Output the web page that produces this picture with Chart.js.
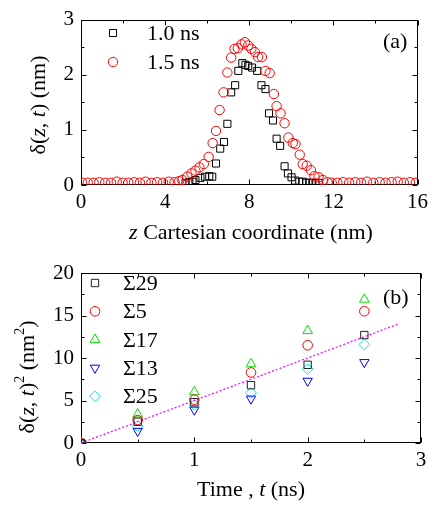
<!DOCTYPE html>
<html>
<head>
<meta charset="utf-8">
<script src="https://cdn.jsdelivr.net/npm/chart.js@4.4.0/dist/chart.umd.min.js"></script>
<style>
  body { margin: 0; background: #fff; }
  #wrap { position: relative; width: 433px; height: 505px; }
  canvas { position: absolute; left: 0; }
</style>
</head>
<body>
<div id="wrap">
  <canvas id="chartA" width="433" height="250" style="top:0"></canvas>
  <canvas id="chartB" width="433" height="255" style="top:250px"></canvas>
</div>
<script>
// panel (a): profile across z
const zTicks = [0, 4, 8, 12, 16];
const deltaTicks = [0, 1, 2, 3];

// 1.0 ns (squares)
const z10 = [4.97, 5.15, 5.3, 5.44, 5.68, 5.9, 6.1, 6.24, 6.42, 6.62, 6.8, 6.96, 7.14, 7.33, 7.48, 7.67, 7.82, 7.95, 8.13, 8.38,
  8.58, 8.77, 8.94, 9.13, 9.3, 9.47, 9.68, 9.84, 10.01, 10.18, 10.38, 10.54, 10.7, 10.85, 11.0, 11.15, 11.3];
const delta10 = [0.04, 0.05, 0.06, 0.09, 0.13, 0.15, 0.16, 0.15, 0.39, 0.66, 0.78, 1.11, 1.68, 1.81, 2.07, 2.21, 2.18, 2.16, 2.13, 2.07,
  1.81, 1.74, 1.30, 1.17, 0.84, 0.71, 0.34, 0.21, 0.14, 0.08, 0.06, 0.06, 0.04, 0.04, 0.04, 0.04, 0.04];

// 1.5 ns (circles)
const z15 = [0.05, 0.32, 0.6, 0.87, 1.15, 1.43, 1.7, 1.98, 2.25, 2.52, 2.8, 3.07, 3.35, 3.62, 3.9, 4.17, 4.45, 4.66, 4.82, 5.05,
  5.25, 5.44, 5.63, 5.84, 6.07, 6.26, 6.42, 6.59, 6.78, 6.96, 7.14, 7.3, 7.46, 7.63, 7.79, 7.95, 8.1, 8.27, 8.42, 8.6,
  8.77, 8.97, 9.17, 9.3, 9.49, 9.68, 9.86, 10.07, 10.2, 10.4, 10.54, 10.73, 10.93, 11.1, 11.3, 11.5, 11.72, 11.92, 12.19, 12.47,
  12.75, 13.04, 13.32, 13.6, 13.9, 14.2, 14.48, 14.77, 15.06, 15.35, 15.64, 15.92];
const delta15 = [0.04, 0.04, 0.04, 0.05, 0.04, 0.04, 0.06, 0.04, 0.04, 0.05, 0.04, 0.06, 0.04, 0.05, 0.04, 0.06, 0.05, 0.07, 0.09, 0.15,
  0.21, 0.26, 0.32, 0.38, 0.51, 0.76, 0.98, 1.36, 1.68, 2.04, 2.31, 2.47, 2.48, 2.55, 2.59, 2.53, 2.47, 2.41, 2.32, 2.32,
  2.07, 2.03, 1.65, 1.43, 1.30, 1.12, 0.86, 0.76, 0.74, 0.55, 0.38, 0.35, 0.27, 0.16, 0.14, 0.09, 0.05, 0.04, 0.04, 0.05,
  0.04, 0.05, 0.04, 0.06, 0.04, 0.05, 0.04, 0.05, 0.06, 0.04, 0.05, 0.04];

// panel (b): squared width vs time
const timeTicks = [0, 1, 2, 3];
const msdTicks = [0, 5, 10, 15, 20];
const timeNs = [0, 0.5, 1, 1.5, 2, 2.5];
const sigma29 = [0, 2.5, 4.8, 6.8, 9.2, 12.7];
const sigma5 = [0, 2.7, 5.1, 8.3, 11.5, 15.5];
const sigma17 = [0, 3.4, 6.0, 9.3, 13.2, 16.9];
const sigma13 = [0, 1.4, 3.9, 5.2, 7.3, 9.5];
const sigma25 = [0, 2.0, 4.5, 5.9, 8.7, 11.6];
const fitT = [0, 2.8];
const fitMsd = [0, 14];

const SERIF = '"Liberation Serif", "Times New Roman", serif';
const pts = (xs, ys) => xs.map((x, i) => ({ x, y: ys[i] }));

// box round the plot area plus inward major/minor tick marks on all four sides
const frameTicks = {
  id: 'frameTicks',
  beforeDatasetsDraw(chart) {
    const { ctx, chartArea: a, scales } = chart;
    const L = Math.round(a.left) + 0.5, R = Math.round(a.right) - 0.5;
    const T = Math.round(a.top) + 0.5, B = Math.round(a.bottom) - 0.5;
    ctx.save();
    ctx.strokeStyle = '#000';
    ctx.lineWidth = 1;
    ctx.strokeRect(L, T, R - L, B - T);
    ctx.beginPath();
    const marks = (scale) => {
      const v = scale.ticks.map(t => t.value);
      const out = [];
      v.forEach((val, i) => {
        out.push([scale.getPixelForValue(val), 5]);
        if (i < v.length - 1) out.push([scale.getPixelForValue((val + v[i + 1]) / 2), 3]);
      });
      return out;
    };
    marks(scales.x).forEach(([p, len]) => {
      const px = Math.round(p) + 0.5;
      ctx.moveTo(px, B); ctx.lineTo(px, B - len);
      ctx.moveTo(px, T); ctx.lineTo(px, T + len);
    });
    marks(scales.y).forEach(([p, len]) => {
      const py = Math.round(p) + 0.5;
      ctx.moveTo(L, py); ctx.lineTo(L + len, py);
      ctx.moveTo(R, py); ctx.lineTo(R - len, py);
    });
    ctx.stroke();
    ctx.restore();
  }
};

// legend inside the plot, panel tag, and axis titles with italics / superscripts
function drawRich(ctx, parts, cx, cy, rotate, size) {
  const fontFor = p => `${p.i ? 'italic ' : ''}${p.sup ? Math.round(size * 0.64) : size}px ${SERIF}`;
  ctx.save();
  ctx.translate(cx, cy);
  if (rotate) ctx.rotate(-Math.PI / 2);
  let w = 0;
  parts.forEach(p => { ctx.font = fontFor(p); w += ctx.measureText(p.t).width; });
  let x = -w / 2;
  const base = size * 0.35;
  ctx.fillStyle = '#000';
  ctx.textAlign = 'left';
  ctx.textBaseline = 'alphabetic';
  parts.forEach(p => {
    ctx.font = fontFor(p);
    ctx.fillText(p.t, x, p.sup ? base - size * 0.42 : base);
    x += ctx.measureText(p.t).width;
  });
  ctx.restore();
}

const annotations = {
  id: 'annotations',
  afterDatasetsDraw(chart, args, opts) {
    const ctx = chart.ctx;
    const items = chart.data.datasets.filter(d => !d.noLegend);
    items.forEach((ds, i) => {
      const y = opts.legend.y + i * opts.legend.dy;
      ctx.save();
      ctx.strokeStyle = ds.borderColor;
      ctx.fillStyle = 'rgba(0,0,0,0)';
      ctx.lineWidth = 1;
      Chart.helpers.drawPoint(ctx, {
        pointStyle: ds.pointStyle, radius: ds.pointRadius, rotation: ds.pointRotation || 0, borderWidth: 1
      }, opts.legend.x, y);
      ctx.fillStyle = '#000';
      ctx.font = `22px ${SERIF}`;
      ctx.textBaseline = 'alphabetic';
      ctx.fillText(ds.label, opts.legend.textX, y + 7);
      ctx.restore();
    });
    ctx.save();
    ctx.fillStyle = '#000';
    ctx.font = `22px ${SERIF}`;
    ctx.fillText(opts.tag.text, opts.tag.x, opts.tag.y);
    ctx.restore();
    opts.titles.forEach(t => drawRich(ctx, t.parts, t.x, t.y, t.rotate, 22));
  }
};

function axisScale(ticksArr, min, max, extra) {
  return Object.assign({
    type: 'linear', min, max,
    grid: { display: false, drawTicks: false },
    border: { display: false },
    afterBuildTicks: s => { s.ticks = ticksArr.map(v => ({ value: v })); },
    ticks: { color: '#000', font: { family: SERIF, size: 21 } }
  }, extra);
}

function baseOptions(padTop, xHeight, plugOpts, xs, ys) {
  return {
    responsive: false,
    animation: false,
    layout: { padding: { top: padTop, right: 12, left: 0, bottom: 0 } },
    scales: { x: xs, y: ys },
    plugins: { legend: { display: false }, tooltip: { enabled: false }, annotations: plugOpts }
  };
}

new Chart(document.getElementById('chartA'), {
  type: 'scatter',
  data: {
    datasets: [
      { label: '1.5 ns', data: pts(z15, delta15), pointStyle: 'circle', pointRadius: 4.7, borderColor: '#ff0000',
        backgroundColor: 'rgba(0,0,0,0)', pointBorderWidth: 1, order: 0 },
      { label: '1.0 ns', data: pts(z10, delta10), pointStyle: 'rect', pointRadius: 5, borderColor: '#000000',
        backgroundColor: 'rgba(0,0,0,0)', pointBorderWidth: 1, order: 1 }
    ].reverse()
  },
  options: baseOptions(15, 65, {
    legend: { x: 113, y: 33, dy: 29, textX: 147 },
    tag: { text: '(a)', x: 383, y: 48 },
    titles: [
      { parts: [{ t: 'z', i: true }, { t: ' Cartesian coordinate (nm)' }], x: 251, y: 231, rotate: false },
      { parts: [{ t: 'δ(' }, { t: 'z', i: true }, { t: ', ' }, { t: 't', i: true }, { t: ') (nm)' }], x: 37, y: 105, rotate: true }
    ]
  },
    axisScale(zTicks, 0, 16, { afterFit: s => { s.height = 65; }, ticks: { color: '#000', padding: 5, maxRotation: 0, font: { family: SERIF, size: 21 } } }),
    axisScale(deltaTicks, 0, 3, { afterFit: s => { s.width = 81; }, ticks: { color: '#000', padding: 7, font: { family: SERIF, size: 21 } } })),
  plugins: [frameTicks, annotations]
});

const markerB = (label, data, style, r, color, rot) => ({
  label, data: pts(timeNs, data), pointStyle: style, pointRadius: r, pointRotation: rot || 0,
  borderColor: color, backgroundColor: 'rgba(0,0,0,0)', pointBorderWidth: 1, clip: 0
});

new Chart(document.getElementById('chartB'), {
  type: 'scatter',
  data: {
    datasets: [
      markerB('Σ29', sigma29, 'rect', 5.2, '#222222'),
      markerB('Σ5', sigma5, 'circle', 4.8, '#ff0000'),
      markerB('Σ17', sigma17, 'triangle', 5.6, '#00e000'),
      markerB('Σ13', sigma13, 'triangle', 5.4, '#0000ff', 180),
      markerB('Σ25', sigma25, 'rectRot', 5.4, '#00e8f0'),
      { label: 'fit', noLegend: true, data: pts(fitT, fitMsd), showLine: true, borderColor: '#ff00ff', borderWidth: 1.2,
        borderDash: [2, 2], pointRadius: 0, clip: 0 }
    ]
  },
  options: baseOptions(23, 62, {
    legend: { x: 95, y: 33, dy: 28.3, textX: 123 },
    tag: { text: '(b)', x: 383, y: 54 },
    titles: [
      { parts: [{ t: 'Time , ' }, { t: 't', i: true }, { t: ' (ns)' }], x: 251, y: 238, rotate: false },
      { parts: [{ t: 'δ(' }, { t: 'z', i: true }, { t: ', ' }, { t: 't', i: true }, { t: ')' }, { t: '2', sup: true },
        { t: ' (nm' }, { t: '2', sup: true }, { t: ')' }], x: 26, y: 127, rotate: true }
    ]
  },
    axisScale(timeTicks, 0, 3, { afterFit: s => { s.height = 62; }, ticks: { color: '#000', padding: 5, maxRotation: 0, font: { family: SERIF, size: 21 } } }),
    axisScale(msdTicks, 0, 20, { afterFit: s => { s.width = 81; }, ticks: { color: '#000', padding: 7, font: { family: SERIF, size: 21 } } })),
  plugins: [frameTicks, annotations]
});
</script>
</body>
</html>
